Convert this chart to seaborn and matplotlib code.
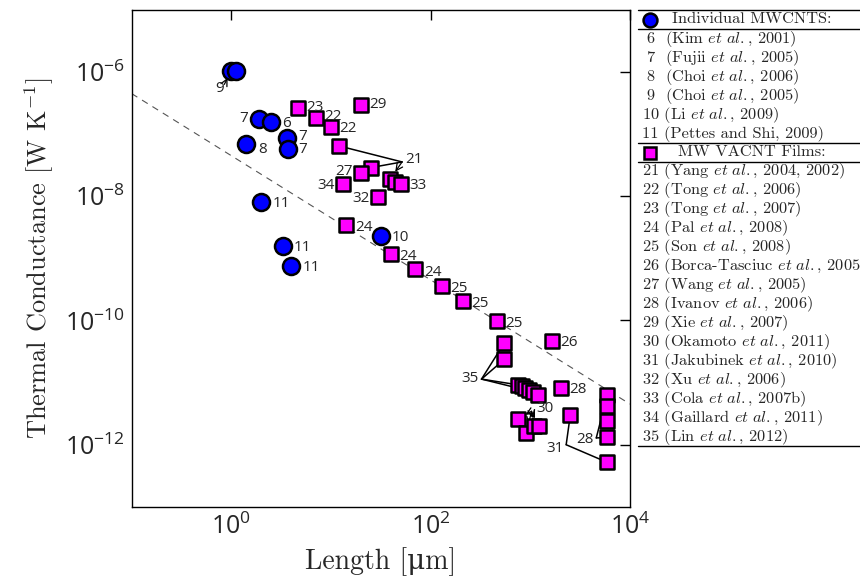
import matplotlib
matplotlib.use('Agg')
import matplotlib.pyplot as plt
import seaborn as sns
import pandas as pd
from matplotlib.ticker import FixedLocator, NullLocator, LogFormatterSciNotation

# individual MWCNTs (blue circles)
cnt_ref = ['9', '9', '7', '6', '8', '7', '7', '11', '11', '11', '10']
cnt_length = [1.0, 1.11, 1.88, 2.5, 1.4, 3.6, 3.67, 1.99, 3.3, 4.0, 32.1]
cnt_conductance = [1.06e-6, 1.03e-6, 1.78e-7, 1.57e-7, 6.9e-8, 8.8e-8, 5.86e-8,
                   8.1e-9, 1.58e-9, 7.5e-10, 2.31e-9]

# MW VACNT films (magenta squares)
film_ref = ['23', '22', '22', '29', '21', '21', '27', '34', '21', '33', '33', '32',
            '24', '24', '24', '25', '25', '25', '26',
            '35', '35', '35', '35', '35', '35', '35', '35',
            '28', '28', '28', '28', '28', '31', '31',
            '30', '30', '30', '30']
film_length = [4.63, 7.0, 10.1, 20.0, 12.1, 25.3, 19.9, 13.1, 39.5, 44.4, 50.1, 29.9,
               14.3, 40.4, 70.4, 129, 212, 465, 1660,
               551, 551, 750, 817, 887, 966, 1059, 1189,
               2010, 5915, 5915, 5915, 5915, 2516, 5915,
               756, 915, 1084, 1217]
film_conductance = [2.6e-7, 1.85e-7, 1.29e-7, 2.99e-7, 6.45e-8, 2.9e-8, 2.4e-8, 1.57e-8,
                    1.93e-8, 1.70e-8, 1.57e-8, 9.6e-9,
                    3.43e-9, 1.17e-9, 6.65e-10, 3.59e-10, 2.06e-10, 9.9e-11, 4.73e-11,
                    4.4e-11, 2.38e-11, 9.18e-12, 8.63e-12, 8.02e-12, 7.64e-12, 7.10e-12, 6.18e-12,
                    8.02e-12, 6.34e-12, 4.21e-12, 2.42e-12, 1.31e-12, 2.95e-12, 5.18e-13,
                    2.61e-12, 1.53e-12, 1.96e-12, 2.01e-12]

# G ~ 1/L guide line
guide_length = [0.1, 1e4]
guide_conductance = [4.5e-7, 4.5e-12]

x_ticks = [1e0, 1e2, 1e4]
y_ticks = [1e-12, 1e-10, 1e-8, 1e-6]

legend_cnt_num = ['6', '7', '8', '9', '10', '11']
legend_cnt_text = [r'(Kim $\mathit{et\ al.}$, 2001)',
                   r'(Fujii $\mathit{et\ al.}$, 2005)',
                   r'(Choi $\mathit{et\ al.}$, 2006)',
                   r'(Choi $\mathit{et\ al.}$, 2005)',
                   r'(Li $\mathit{et\ al.}$, 2009)',
                   r'(Pettes and Shi, 2009)']
legend_film_num = ['21', '22', '23', '24', '25', '26', '27', '28', '29', '30',
                   '31', '32', '33', '34', '35']
legend_film_text = [r'(Yang $\mathit{et\ al.}$, 2004, 2002)',
                    r'(Tong $\mathit{et\ al.}$, 2006)',
                    r'(Tong $\mathit{et\ al.}$, 2007)',
                    r'(Pal $\mathit{et\ al.}$, 2008)',
                    r'(Son $\mathit{et\ al.}$, 2008)',
                    r'(Borca-Tasciuc $\mathit{et\ al.}$, 2005)',
                    r'(Wang $\mathit{et\ al.}$, 2005)',
                    r'(Ivanov $\mathit{et\ al.}$, 2006)',
                    r'(Xie $\mathit{et\ al.}$, 2007)',
                    r'(Okamoto $\mathit{et\ al.}$, 2011)',
                    r'(Jakubinek $\mathit{et\ al.}$, 2010)',
                    r'(Xu $\mathit{et\ al.}$, 2006)',
                    r'(Cola $\mathit{et\ al.}$, 2007b)',
                    r'(Gaillard $\mathit{et\ al.}$, 2011)',
                    r'(Lin $\mathit{et\ al.}$, 2012)']

sns.set_theme(style='white')
plt.rcParams['font.family'] = ['Open Sans', 'DejaVu Sans']
plt.rcParams['mathtext.fontset'] = 'cm'
serif = ['cmr10', 'DejaVu Serif']

cnt = pd.DataFrame({'length': cnt_length, 'G': cnt_conductance, 'ref': cnt_ref})
film = pd.DataFrame({'length': film_length, 'G': film_conductance, 'ref': film_ref})

fig = plt.figure(figsize=(8.6, 5.81), dpi=100)
ax = fig.add_axes([0.1531, 0.1279, 0.5794, 0.8549])

ax.plot(guide_length, guide_conductance, color='#555555', lw=0.8, ls=(0, (6, 5)), zorder=1)
sns.scatterplot(data=cnt, x='length', y='G', marker='o', s=150, color='#0000ff',
                edgecolor='black', linewidth=1.8, ax=ax, zorder=3, legend=False)
sns.scatterplot(data=film, x='length', y='G', marker='s', s=95, color='#ff00ff',
                edgecolor='black', linewidth=1.8, ax=ax, zorder=3, legend=False)

ax.set_xscale('log')
ax.set_yscale('log')
ax.set_xlim(0.1, 1e4)
ax.set_ylim(1e-13, 1e-5)
ax.xaxis.set_major_locator(FixedLocator(x_ticks))
ax.yaxis.set_major_locator(FixedLocator(y_ticks))
ax.xaxis.set_minor_locator(NullLocator())
ax.yaxis.set_minor_locator(NullLocator())
ax.xaxis.set_major_formatter(LogFormatterSciNotation())
ax.yaxis.set_major_formatter(LogFormatterSciNotation())
ax.tick_params(which='both', direction='in', top=True, right=True, length=7,
               width=1, color='black', labelsize=18, pad=5)
for s in ax.spines.values():
    s.set_color('black')
    s.set_linewidth(1.0)

ax.set_xlabel(r'Length [μm]', family=serif, fontsize=20, labelpad=5)
ax.set_ylabel(r'Thermal Conductance [W K$^{-1}$]', family=serif, fontsize=19, labelpad=6)

# simple point labels: (index, dx, dy, ha) offsets in points
cnt_labels = [(2, -8, 0, 'right'), (3, 8, -1, 'left'), (4, 9, -4, 'left'),
              (5, 8, 1, 'left'), (6, 8, -1, 'left'), (7, 8, -1, 'left'),
              (8, 8, -1, 'left'), (9, 8, -1, 'left'), (10, 7, -1, 'left')]
film_labels = [(0, 6, 1, 'left'), (1, 6, 1, 'left'), (2, 6, -1, 'left'), (3, 6, 0, 'left'),
               (6, -6, 1, 'right'), (7, -6, -1, 'right'), (10, 6, -1, 'left'),
               (11, -6, -1, 'right'), (12, 6, -2, 'left'), (13, 6, -2, 'left'),
               (14, 6, -2, 'left'), (15, 6, -2, 'left'), (16, 6, -2, 'left'),
               (17, 6, -2, 'left'), (18, 6, -1, 'left'), (27, 6, -1, 'left')]
for i, dx, dy, ha in cnt_labels:
    ax.annotate(cnt_ref[i], (cnt_length[i], cnt_conductance[i]), xytext=(dx, dy),
                textcoords='offset points', ha=ha, va='center', fontsize=11, zorder=4)
for i, dx, dy, ha in film_labels:
    ax.annotate(film_ref[i], (film_length[i], film_conductance[i]), xytext=(dx, dy),
                textcoords='offset points', ha=ha, va='center', fontsize=11, zorder=4)

# grouped labels with leader lines: text pos, anchor, line targets, arrow targets
groups = [
    ('9', (0.758, 5.47e-7), (0.851, 6.34e-7), [], [(cnt_length[0], cnt_conductance[0])]),
    ('21', (68.0, 3.85e-8), (51.7, 3.57e-8),
     [(film_length[4], film_conductance[4]), (film_length[5], film_conductance[5])],
     [(film_length[8], film_conductance[8])]),
    ('35', (250, 1.15e-11), (324, 1.135e-11),
     [(film_length[i], film_conductance[i]) for i in (19, 20, 21, 25)], []),
    ('30', (1400, 3.75e-12), (1028, 3.43e-12), [],
     [(film_length[i], film_conductance[i]) for i in (34, 35, 36, 37)]),
    ('31', (1780, 8.6e-13), (2291, 9.95e-13),
     [(film_length[i], film_conductance[i]) for i in (32, 33)], []),
    ('28', (3500, 1.23e-12), (4592, 1.28e-12),
     [(film_length[i], film_conductance[i]) for i in (28, 31)], []),
]
for lbl, tpos, anchor, lines, arrows in groups:
    ax.text(tpos[0], tpos[1], lbl, ha='center', va='center', fontsize=11, zorder=4)
    for tgt in lines:
        ax.annotate('', tgt, xytext=anchor,
                    arrowprops=dict(arrowstyle='-', lw=1.1, color='black',
                                    shrinkA=0, shrinkB=5), zorder=2)
    for tgt in arrows:
        ax.annotate('', tgt, xytext=anchor,
                    arrowprops=dict(arrowstyle='->', lw=0.9, color='black',
                                    shrinkA=0, shrinkB=6), zorder=2)

# legend table on the right
lax = fig.add_axes([638 / 860, 1 - 446 / 581, 222 / 860, 436 / 581])
lax.set_xlim(638, 860)
lax.set_ylim(446, 10)
lax.axis('off')
for yy in [10, 29, 143, 162, 446]:
    lax.axhline(yy, color='black', lw=1.0, clip_on=False)

fs = 11.8
lax.plot([650], [19.5], 'o', ms=10, mfc='#0000ff', mec='black', mew=1.8, clip_on=False)
lax.text(752, 19.5, 'Individual MWCNTS:', family=serif, fontsize=fs, ha='center', va='center')
lax.plot([650], [152.5], 's', ms=8, mfc='#ff00ff', mec='black', mew=1.8, clip_on=False)
lax.text(752, 152.5, 'MW VACNT Films:', family=serif, fontsize=fs, ha='center', va='center')


def legend_row(num, txt, yy):
    # single-digit numbers get a little extra indent, like the reference table
    if len(num) == 1:
        lax.text(646, yy, num + '  ' + txt, family=serif, fontsize=fs,
                 ha='left', va='center', clip_on=False)
    else:
        lax.text(642, yy, num + ' ' + txt, family=serif, fontsize=fs,
                 ha='left', va='center', clip_on=False)


for k, (num, txt) in enumerate(zip(legend_cnt_num, legend_cnt_text)):
    legend_row(num, txt, 39 + 19 * k)
for k, (num, txt) in enumerate(zip(legend_film_num, legend_film_text)):
    legend_row(num, txt, 171 + 19 * k)

fig.savefig('out.png', dpi=100)
